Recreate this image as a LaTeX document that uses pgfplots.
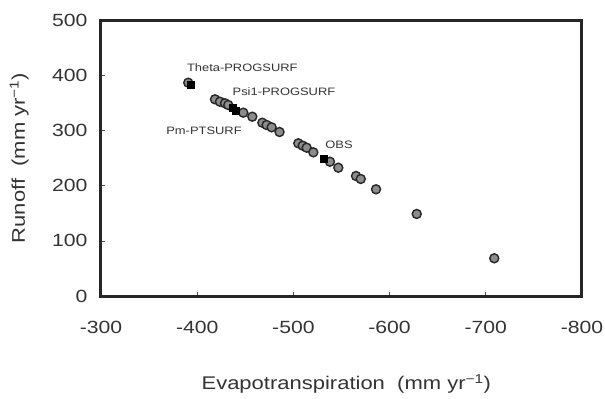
\documentclass[border=0pt]{standalone}
\usepackage{fontspec}
\setmainfont{Liberation Sans}[FakeStretch=1.2]
\usepackage{pgfplots}
\pgfplotsset{compat=1.18}

\definecolor{ptfill}{HTML}{8C8C8C}
\definecolor{ptedge}{HTML}{262626}
\definecolor{framecol}{rgb}{0.15,0.15,0.15}
\tikzset{annot/.style={font=\fontsize{10.8}{12}\selectfont, text=black!80}}

\begin{document}
\begin{tikzpicture}
\useasboundingbox (-101bp,-103bp) rectangle (504bp,296bp);
\begin{axis}[
  at={(0,0)}, anchor=south west,
  scale only axis,
  width=481bp, height=276bp,
  x dir=reverse,
  xmin=-800, xmax=-300,
  ymin=0, ymax=500,
  xtick={-300,-400,-500,-600,-700,-800},
  xticklabels={-300,-400,-500,-600,-700,-800},
  ytick={0,100,200,300,400,500},
  yticklabels={0,100,200,300,400,500},
  xtick pos=bottom, ytick pos=left,
  tick align=inside,
  major tick length=4bp,
  axis line style={line width=3bp, framecol},
  tick style={line width=0.6bp, black!70},
  ticklabel style={font=\fontsize{17.7}{20}\selectfont, text=black!80},
  xticklabel style={yshift=-22bp},
  yticklabel style={xshift=-10bp},
  xlabel={Evapotranspiration\ \ (mm yr\textsuperscript{−1})},
  ylabel={Runoff\ \ (mm yr\textsuperscript{−1})},
  label style={font=\fontsize{18.4}{21}\selectfont, text=black!80},
  xlabel style={at={(axis description cs:0.51,-0.340)}, anchor=base},
  ylabel style={at={(axis description cs:-0.158,0.5)}, anchor=base},
  clip=false,
]
% plot frame
\draw[line width=3bp, framecol] (rel axis cs:0,0) rectangle (rel axis cs:1,1);
% model runs
\addplot[only marks, mark=*, mark size=4.5bp,
  mark options={fill=ptfill, draw=ptedge, line width=1.4bp}]
  coordinates {
  (-390.7,386.4)
  (-418.5,356.3) (-423.7,352.0) (-428.9,349.1) (-432.3,346.0)
  (-447.9,332.1) (-457.3,324.8) (-467.7,313.9) (-472.2,309.8)
  (-477.4,305.6) (-485.6,297.1) (-505.1,276.6) (-509.7,272.3)
  (-513.8,268.7) (-520.7,260.3) (-538.0,243.3) (-546.7,232.4)
  (-565.1,217.4) (-570.0,212.0) (-585.9,193.3) (-628.2,148.6)
  (-708.8,68.3)
  };
% highlighted runs and observation
\addplot[only marks, mark=square*, mark size=3.5bp,
  mark options={fill=black, draw=black}]
  coordinates {
  (-393.6,382.2) (-436.5,341.1) (-440.0,335.7) (-531.1,249.5)
  };
\node[annot] at (axis cs:-446.9,414.3) {Theta-PROGSURF};
\node[annot] at (axis cs:-490.2,370.1) {Psi1-PROGSURF};
\node[annot] at (axis cs:-407.1,299.8) {Pm-PTSURF};
\node[annot] at (axis cs:-547.4,273.6) {OBS};
\end{axis}
\end{tikzpicture}
\end{document}
